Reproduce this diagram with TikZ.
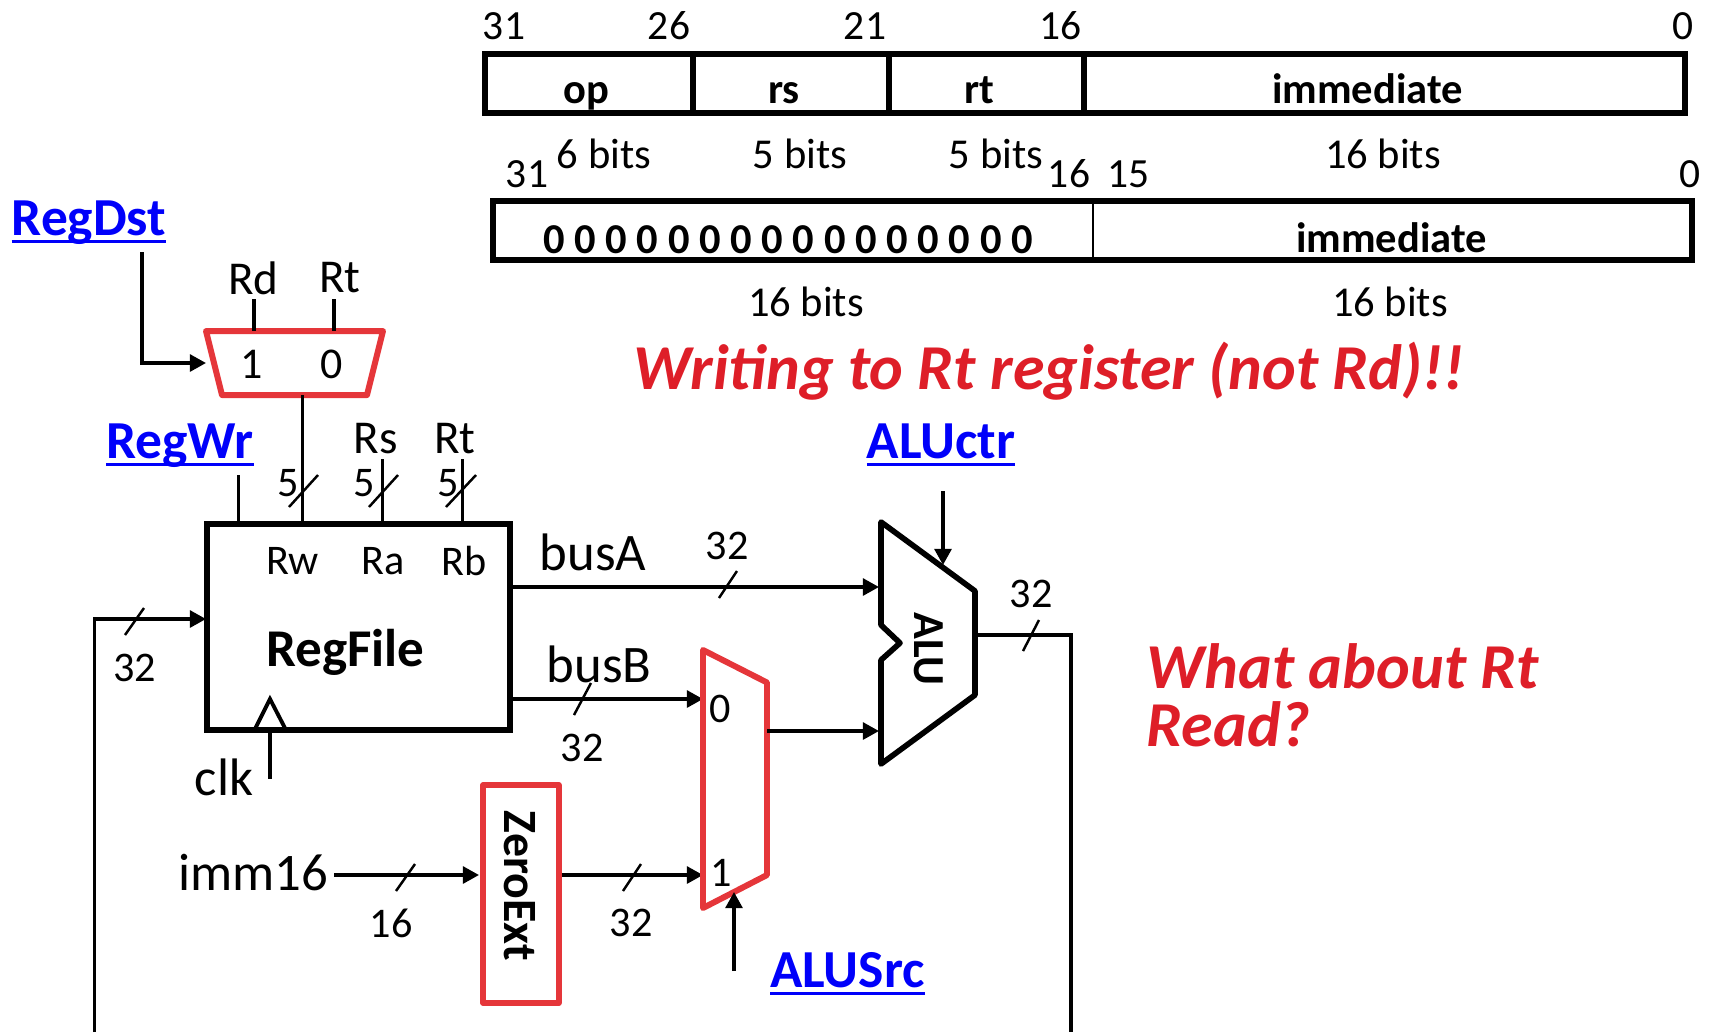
\documentclass[tikz,border=0pt]{standalone}
\usepackage{fontspec}
\setmainfont{Carlito}
\usetikzlibrary{arrows.meta}
\definecolor{muxred}{RGB}{229,54,58}
\definecolor{notered}{RGB}{222,30,40}
\definecolor{sigblue}{RGB}{0,0,250}
\newcommand{\sigtext}[1]{\setbox0=\hbox{#1}\rlap{\rule[-0.145em]{\wd0}{0.9pt}}\box0}
\tikzset{
  wire/.style={line width=1pt},
  arrow/.style={line width=1pt,-{Triangle[length=4.6pt,width=4.8pt]}},
  tick/.style={line width=0.7pt},
  thickbox/.style={line width=1.7pt,line join=miter},
  fieldbox/.style={line width=1.45pt,line join=miter},
  redbox/.style={line width=1.7pt,draw=muxred,line join=round},
  bitnum/.style={inner sep=0pt,font=\fontsize{11.8}{14}\selectfont},
  bitlen/.style={inner sep=0pt,font=\fontsize{12.1}{14}\selectfont},
  pin/.style={inner sep=0pt,font=\fontsize{12}{14}\selectfont},
  reg/.style={inner sep=0pt,font=\fontsize{13.4}{16}\selectfont},
  bus/.style={inner sep=0pt,font=\fontsize{15}{18}\selectfont},
  field/.style={inner sep=0pt,anchor=base,font=\fontsize{12.1}{14}\selectfont\bfseries},
  signal/.style={inner sep=0pt,anchor=base,text=sigblue,font=\fontsize{15.2}{18}\selectfont\bfseries},
  note/.style={inner sep=0pt,text=notered,font=\fontsize{18.2}{22}\selectfont\bfseries\itshape}
}
\begin{document}
\begin{tikzpicture}[x=0.01cm,y=-0.01cm]
  \useasboundingbox (0,0) rectangle (1714,1032);
  % instruction fields
  \draw[fieldbox] (485,54) rectangle (1685,113);
  \draw[fieldbox] (693,54) -- (693,113);
  \draw[fieldbox] (889,54) -- (889,113);
  \draw[fieldbox] (1084,54) -- (1084,113);
  \node[bitnum] (topa) at (504,26) {31};
  \node[bitnum] (topb) at (669,26) {26};
  \node[bitnum] (topc) at (1060.5,26) {16};
  \node[bitnum] (topd) at (865,26) {21};
  \node[bitnum] (tope) at (1683,26) {0};
  \node[field] (opfield) at (586,103) {op};
  \node[field] (rsfield) at (784,103) {rs};
  \node[field] (rtfield) at (979,103) {rt};
  \node[field] (immfield) at (1367.5,103) {immediate};
  \node[bitlen] (opbits) at (604,154) {6 bits};
  \node[bitlen] (rsbits) at (800,154) {5 bits};
  \node[bitlen] (rtbits) at (996,154) {5 bits};
  \node[bitlen] (immbits) at (1383,154) {16 bits};
  % extended word
  \draw[fieldbox] (493,201) rectangle (1692,260);
  \draw[line width=0.8pt] (1093,201) -- (1093,260);
  \node[bitnum] (lowa) at (527,174) {31};
  \node[bitnum] (lowb) at (1069,174) {16};
  \node[bitnum] (lowc) at (1128.5,174) {15};
  \node[bitnum] (lowd) at (1690.5,174) {0};
  \node[field] (zeros) at (788,253) {0 0 0 0 0 0 0 0 0 0 0 0 0 0 0 0};
  \node[field] (extimm) at (1391.5,252) {immediate};
  \node[bitlen] (zerobits) at (806,302) {16 bits};
  \node[bitlen] (extbits) at (1390,302) {16 bits};
  % notes
  \node[note] (writenote) at (1049,371) {Writing to Rt register (not Rd)!!};
  \node[note,anchor=west] (readnotea) at (1146,666) {What about Rt};
  \node[note,anchor=west] (readnoteb) at (1146,724) {Read?};
  % RegDst mux
  \draw[redbox] (206,331) -- (383,331) -- (367,395) -- (222,395) -- cycle;
  \node[reg] (rdlabel) at (253.5,278) {Rd};
  \node[reg] (rtlabel) at (340,278) {Rt};
  \node[pin,font=\fontsize{12.5}{14}\selectfont] (muxone) at (252,364) {1};
  \node[pin,font=\fontsize{12.5}{14}\selectfont] (muxzero) at (332,364) {0};
  \node[signal] (regdst) at (89,235) {\sigtext{RegDst}};
  \coordinate (dsttop) at (142,252);
  \coordinate (dstturn) at (142,363);
  \coordinate (dstend) at (206,363);
  \draw[arrow] (dsttop) -- (dstturn) -- (dstend);
  \draw[wire] (254,299) -- (254,331);
  \draw[wire] (334,299) -- (334,331);
  % RegFile
  \node[draw,thickbox,inner sep=0pt,minimum width=3.02cm,minimum height=2.06cm] (regfile) at (358.5,627) {};
  \node[inner sep=0pt,font=\fontsize{15.1}{18}\selectfont\bfseries] (regname) at (345.5,652) {RegFile};
  \node[pin] (rwpin) at (292.5,561) {Rw};
  \node[pin] (rapin) at (383,561) {Ra};
  \node[pin] (rbpin) at (464,561) {Rb};
  \node[signal] (regwr) at (180,458) {\sigtext{RegWr}};
  \node[reg] (rslabel) at (376,439) {Rs};
  \node[reg] (rblabel) at (455,439) {Rt};
  \node[pin] (fivea) at (288,483) {5};
  \node[pin] (fiveb) at (364,483) {5};
  \node[pin] (fivec) at (448,483) {5};
  \draw[wire] (302.5,395) -- (302.5,523);
  \draw[wire] (238.5,475) -- (238.5,523);
  \draw[wire] (382.5,459) -- (382.5,523);
  \draw[wire] (462.5,459) -- (462.5,523);
  \draw[tick] (289,507) -- (318,475);
  \draw[tick] (369,507) -- (398,475);
  \draw[tick] (446,507) -- (476,475);
  % clock
  \draw[line width=1.1pt,line join=miter] (254.5,730) -- (270,699) -- (286,730);
  \draw[wire] (270,731) -- (270,779);
  \node[reg,font=\fontsize{15}{18}\selectfont] (clklabel) at (224,777) {clk};
  % write bus
  \coordinate (wbtail) at (94.5,1032);
  \coordinate (wbturn) at (94.5,619);
  \coordinate (wbend) at (206,619);
  \draw[arrow] (wbtail) -- (wbturn) -- (wbend);
  \draw[tick] (125,635) -- (144,608);
  \node[pin] (wbwidth) at (134.5,668) {32};
  % busA and busB
  \node[bus] (busalabel) at (593,552) {busA};
  \node[bus] (busblabel) at (599,664) {busB};
  \coordinate (busaend) at (879,587);
  \coordinate (busbend) at (703,699);
  \draw[arrow] (regfile.east |- busaend) -- (busaend);
  \draw[arrow] (regfile.east |- busbend) -- (busbend);
  \draw[tick] (719,598) -- (737,571);
  \draw[tick] (574,715) -- (591,683);
  \node[pin] (busawidth) at (727,546) {32};
  \node[pin] (busbwidth) at (582,748) {32};
  % immediate path
  \node[bus] (immlabel) at (253.5,873) {imm16};
  \node[draw,redbox,inner sep=0pt,minimum width=0.75cm,minimum height=2.18cm] (zeroext) at (521,894) {};
  \node[inner sep=0pt,rotate=-90,font=\fontsize{13.6}{16}\selectfont\bfseries] (zeroname) at (520,886) {ZeroExt};
  \coordinate (immstart) at (334,875);
  \coordinate (immend) at (479,875);
  \coordinate (zxend) at (703,875);
  \draw[arrow] (immstart) -- (immend);
  \draw[arrow] (zeroext.east |- zxend) -- (zxend);
  \draw[tick] (396,891) -- (415,864);
  \draw[tick] (623,891) -- (641,864);
  \node[pin] (immwidth) at (391,923) {16};
  \node[pin] (zxwidth) at (631,923) {32};
  % ALUSrc mux
  \draw[redbox] (703,650) -- (767,682.5) -- (767,875) -- (703,908) -- cycle;
  \node[pin] (srczero) at (720.5,709) {0};
  \node[pin] (srcone) at (721,873) {1};
  \coordinate (srcstart) at (734,971);
  \coordinate (srcend) at (734,892);
  \draw[arrow] (srcstart) -- (srcend);
  \node[signal] (alusrc) at (847.5,987) {\sigtext{ALUSrc}};
  % ALU
  \draw[thickbox,line width=1.6pt,line join=round] (881,522) -- (975,591) -- (975,695) -- (881,764) -- (881,660) -- (900,643) -- (881,625) -- cycle;
  \node[inner sep=0pt,rotate=-90,font=\fontsize{12.6}{14}\selectfont\bfseries] (aluname) at (928.5,649) {ALU};
  \coordinate (srcout) at (767,731);
  \coordinate (aluin) at (879,731);
  \draw[arrow] (srcout) -- (aluin);
  \coordinate (ctrstart) at (943,491);
  \coordinate (ctrend) at (943,565);
  \draw[arrow] (ctrstart) -- (ctrend);
  \node[signal] (aluctr) at (941,458) {\sigtext{ALUctr}};
  \coordinate (outstart) at (975,635);
  \coordinate (outturn) at (1071,635);
  \coordinate (outtail) at (1071,1032);
  \draw[wire,line join=miter] (outstart) -- (outturn) -- (outtail);
  \draw[tick] (1023,651) -- (1039,620);
  \node[pin] (outwidth) at (1031,594) {32};
\end{tikzpicture}
\end{document}
